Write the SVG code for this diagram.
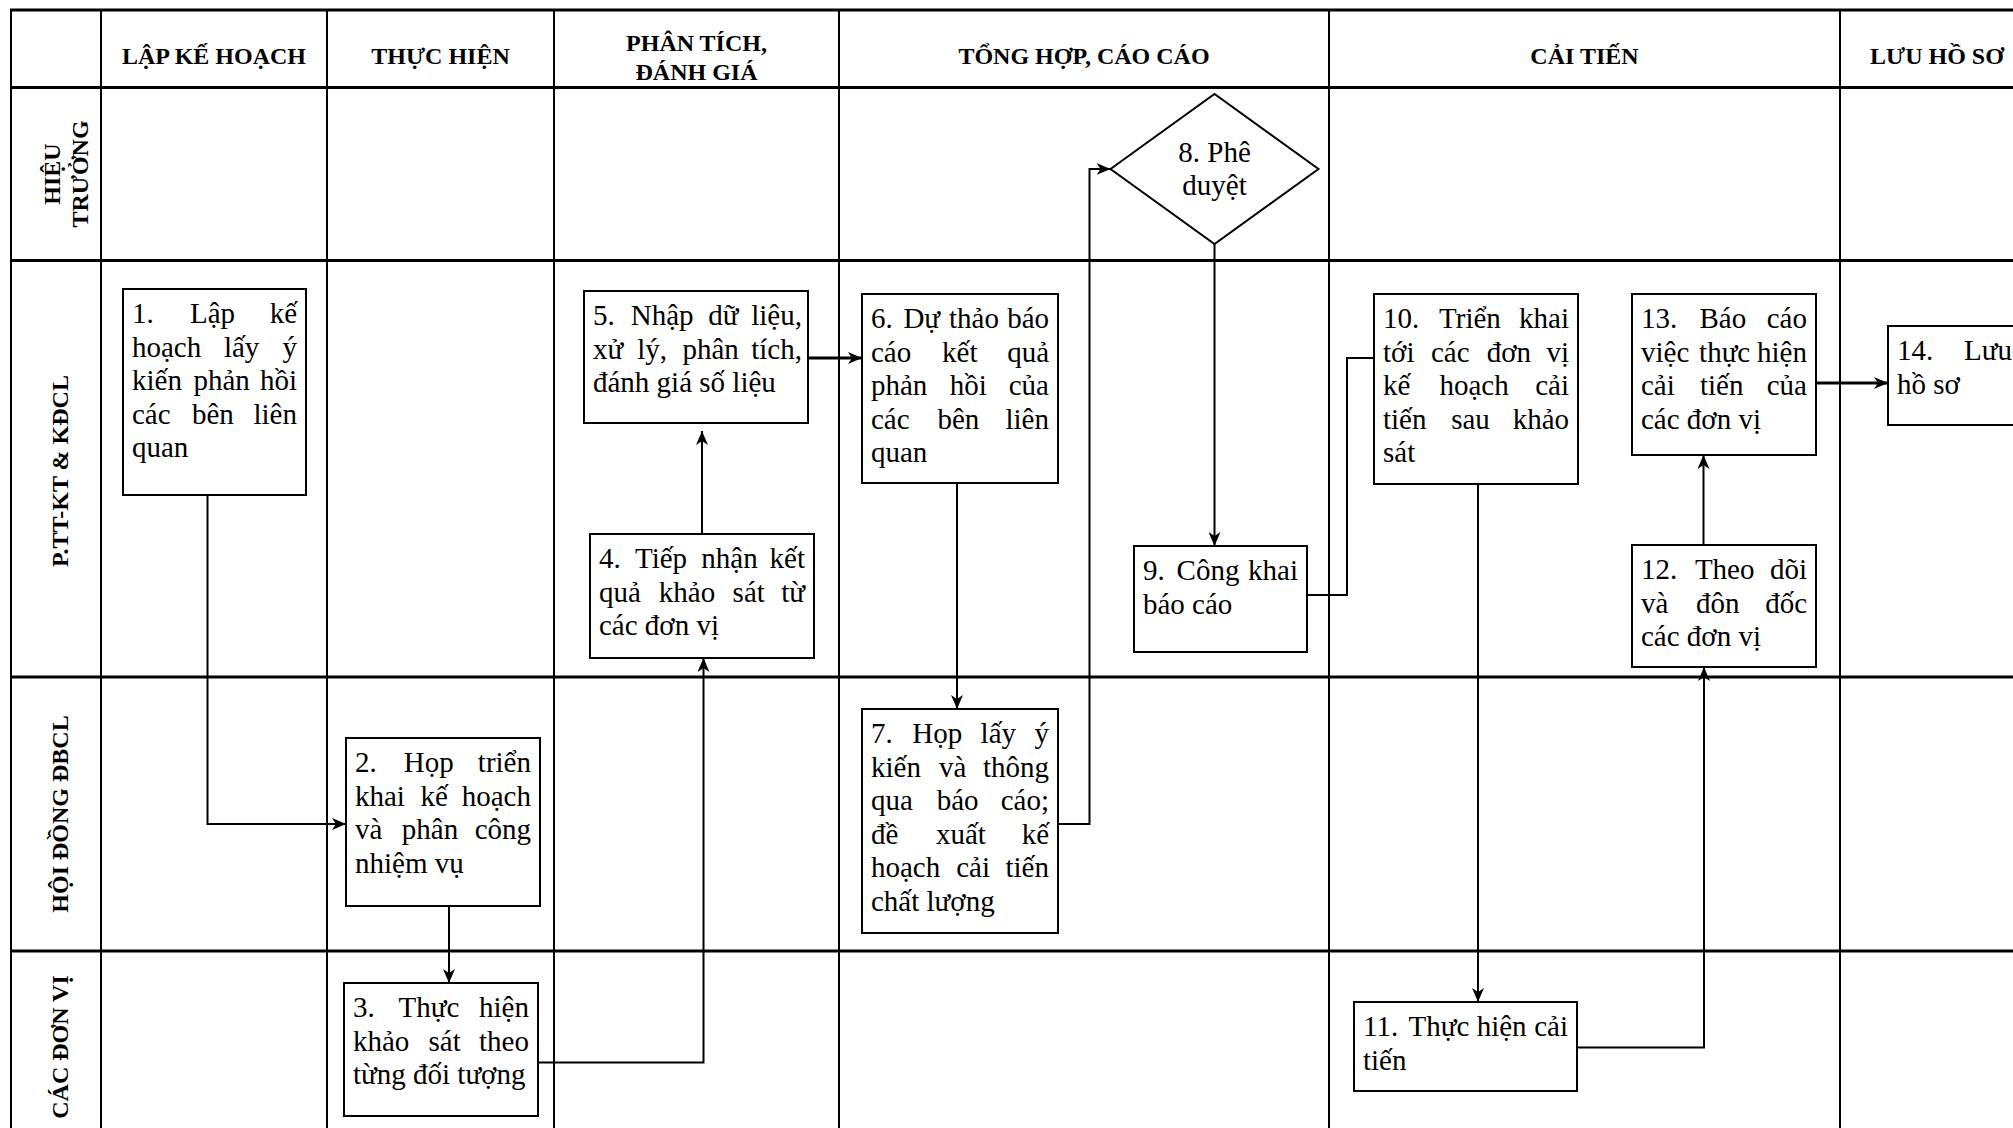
<svg xmlns="http://www.w3.org/2000/svg" width="2013" height="1128" viewBox="0 0 2013 1128">
<style>
.hz{stroke:#000;stroke-width:3}
.vt{stroke:#000;stroke-width:2}
.h{font-family:"Liberation Serif","Times New Roman",serif;font-weight:bold;font-size:24px;text-anchor:middle;fill:#000}
.box{fill:#fff;stroke:#000;stroke-width:2}
.t{font-family:"Liberation Serif","Times New Roman",serif;font-size:29px;fill:#000}
.e{text-anchor:end}
.m{text-anchor:middle}
.c{fill:none;stroke:#000;stroke-width:2}
.thick{stroke-width:3}
</style>
<defs>
<marker id="a" markerUnits="userSpaceOnUse" markerWidth="14" markerHeight="12" refX="14" refY="6" orient="auto"><path d="M0,0 L14,6 L0,12 L4,6 z" fill="#000"/></marker>
</defs>
<rect width="2013" height="1128" fill="#fff"/>
<g id="grid">
<line class="hz" x1="10" y1="10" x2="2013" y2="10"/>
<line class="hz" x1="10" y1="87.5" x2="2013" y2="87.5"/>
<line class="hz" x1="10" y1="260.5" x2="2013" y2="260.5"/>
<line class="hz" x1="10" y1="677" x2="2013" y2="677"/>
<line class="hz" x1="10" y1="951" x2="2013" y2="951"/>
<line class="vt" x1="11" y1="9" x2="11" y2="1128"/>
<line class="vt" x1="101" y1="9" x2="101" y2="1128"/>
<line class="vt" x1="327" y1="9" x2="327" y2="1128"/>
<line class="vt" x1="554" y1="9" x2="554" y2="1128"/>
<line class="vt" x1="839" y1="9" x2="839" y2="1128"/>
<line class="vt" x1="1329" y1="9" x2="1329" y2="1128"/>
<line class="vt" x1="1840" y1="9" x2="1840" y2="1128"/>
</g>
<g id="headers">
<text class="h" x="214" y="64">LẬP KẾ HOẠCH</text>
<text class="h" x="440.5" y="64">THỰC HIỆN</text>
<text class="h" x="696.5" y="51">PHÂN TÍCH,</text>
<text class="h" x="696.5" y="80">ĐÁNH GIÁ</text>
<text class="h" x="1084" y="64">TỔNG HỢP, CÁO CÁO</text>
<text class="h" x="1584.5" y="64">CẢI TIẾN</text>
<text class="h" x="1937" y="64">LƯU HỒ SƠ</text>
</g>
<g id="lanes">
<text class="h" transform="translate(60,174) rotate(-90)"><tspan x="0" y="0">HIỆU</tspan><tspan x="0" y="28">TRƯỞNG</tspan></text>
<text class="h" transform="translate(68,471) rotate(-90)">P.TT-KT &amp; KĐCL</text>
<text class="h" transform="translate(68,814) rotate(-90)">HỘI ĐỒNG ĐBCL</text>
<text class="h" transform="translate(68,1047) rotate(-90)">CÁC ĐƠN VỊ</text>
</g>
<g id="connectors">
<path class="c" d="M207.5,495 V824 H346" marker-end="url(#a)"/>
<path class="c" d="M449,906 V983" marker-end="url(#a)"/>
<path class="c" d="M538,1062.5 H703.5 V658" marker-end="url(#a)"/>
<path class="c" d="M702,534 V431" marker-end="url(#a)"/>
<path class="c thick" d="M808,358 H862" marker-end="url(#a)"/>
<path class="c" d="M957,483 V709" marker-end="url(#a)"/>
<path class="c" d="M1058,824 H1089.5 V169 H1110.5" marker-end="url(#a)"/>
<path class="c" d="M1214.5,244 V546" marker-end="url(#a)"/>
<path class="c" d="M1307,595 H1347 V358 H1374"/>
<path class="c" d="M1478,484 V1002" marker-end="url(#a)"/>
<path class="c" d="M1577,1047.5 H1704 V667" marker-end="url(#a)"/>
<path class="c" d="M1703.5,545 V455" marker-end="url(#a)"/>
<path class="c thick" d="M1816,383 H1888" marker-end="url(#a)"/>
</g>
<g id="n1">
<rect class="box" x="123" y="289" width="183" height="206"/>
<text class="t"><tspan x="132" y="323">1.</tspan><tspan x="190" y="323">Lập</tspan><tspan class="e" x="297" y="323">kế</tspan><tspan x="132" y="356.6">hoạch</tspan><tspan x="223.9" y="356.6">lấy</tspan><tspan class="e" x="297" y="356.6">ý</tspan><tspan x="132" y="390.2">kiến</tspan><tspan x="193.5" y="390.2">phản</tspan><tspan class="e" x="297" y="390.2">hồi</tspan><tspan x="132" y="423.8">các</tspan><tspan x="192" y="423.8">bên</tspan><tspan class="e" x="297" y="423.8">liên</tspan><tspan x="132" y="457.4">quan</tspan></text>
</g>
<g id="n2">
<rect class="box" x="346" y="738" width="194" height="168"/>
<text class="t"><tspan x="355" y="772">2.</tspan><tspan x="403.7" y="772">Họp</tspan><tspan class="e" x="531" y="772">triển</tspan><tspan x="355" y="805.6">khai</tspan><tspan x="420.4" y="805.6">kế</tspan><tspan class="e" x="531" y="805.6">hoạch</tspan><tspan x="355" y="839.2">và</tspan><tspan x="401.8" y="839.2">phân</tspan><tspan class="e" x="531" y="839.2">công</tspan><tspan x="355" y="872.8">nhiệm vụ</tspan></text>
</g>
<g id="n3">
<rect class="box" x="344" y="983" width="194" height="133"/>
<text class="t"><tspan x="353" y="1017">3.</tspan><tspan x="398.6" y="1017">Thực</tspan><tspan class="e" x="529" y="1017">hiện</tspan><tspan x="353" y="1050.6">khảo</tspan><tspan x="428.5" y="1050.6">sát</tspan><tspan class="e" x="529" y="1050.6">theo</tspan><tspan x="353" y="1084.2">từng đối tượng</tspan></text>
</g>
<g id="n4">
<rect class="box" x="590" y="534" width="224" height="124"/>
<text class="t"><tspan x="599" y="568">4.</tspan><tspan x="635" y="568">Tiếp</tspan><tspan x="701.3" y="568">nhận</tspan><tspan class="e" x="805" y="568">kết</tspan><tspan x="599" y="601.6">quả</tspan><tspan x="658.8" y="601.6">khảo</tspan><tspan x="732.6" y="601.6">sát</tspan><tspan class="e" x="805" y="601.6">từ</tspan><tspan x="599" y="635.2">các đơn vị</tspan></text>
</g>
<g id="n5">
<rect class="box" x="584" y="291" width="224" height="132"/>
<text class="t"><tspan x="593" y="325">5.</tspan><tspan x="630.8" y="325">Nhập</tspan><tspan x="708.2" y="325">dữ</tspan><tspan class="e" x="802" y="325">liệu,</tspan><tspan x="593" y="358.6">xử</tspan><tspan x="637.3" y="358.6">lý,</tspan><tspan x="682.4" y="358.6">phân</tspan><tspan class="e" x="802" y="358.6">tích,</tspan><tspan x="593" y="392.2">đánh giá số liệu</tspan></text>
</g>
<g id="n6">
<rect class="box" x="862" y="294" width="196" height="189"/>
<text class="t"><tspan x="871" y="328">6.</tspan><tspan x="903.4" y="328">Dự</tspan><tspan x="949" y="328">thảo</tspan><tspan class="e" x="1049" y="328">báo</tspan><tspan x="871" y="361.6">cáo</tspan><tspan x="942.1" y="361.6">kết</tspan><tspan class="e" x="1049" y="361.6">quả</tspan><tspan x="871" y="395.2">phản</tspan><tspan x="949.8" y="395.2">hồi</tspan><tspan class="e" x="1049" y="395.2">của</tspan><tspan x="871" y="428.8">các</tspan><tspan x="937.5" y="428.8">bên</tspan><tspan class="e" x="1049" y="428.8">liên</tspan><tspan x="871" y="462.4">quan</tspan></text>
</g>
<g id="n7">
<rect class="box" x="862" y="709" width="196" height="224"/>
<text class="t"><tspan x="871" y="743">7.</tspan><tspan x="912.2" y="743">Họp</tspan><tspan x="980.6" y="743">lấy</tspan><tspan class="e" x="1049" y="743">ý</tspan><tspan x="871" y="776.6">kiến</tspan><tspan x="939" y="776.6">và</tspan><tspan class="e" x="1049" y="776.6">thông</tspan><tspan x="871" y="810.2">qua</tspan><tspan x="936.7" y="810.2">báo</tspan><tspan class="e" x="1049" y="810.2">cáo;</tspan><tspan x="871" y="843.8">đề</tspan><tspan x="935.9" y="843.8">xuất</tspan><tspan class="e" x="1049" y="843.8">kế</tspan><tspan x="871" y="877.4">hoạch</tspan><tspan x="956.2" y="877.4">cải</tspan><tspan class="e" x="1049" y="877.4">tiến</tspan><tspan x="871" y="911">chất lượng</tspan></text>
</g>
<g id="n8">
<polygon class="box" points="1110.5,169 1214.5,94 1318.5,169 1214.5,244"/>
<text class="t m"><tspan x="1214.5" y="162">8. Phê</tspan><tspan x="1214.5" y="195">duyệt</tspan></text>
</g>
<g id="n9">
<rect class="box" x="1134" y="546" width="173" height="106"/>
<text class="t"><tspan x="1143" y="580">9.</tspan><tspan x="1176.6" y="580">Công</tspan><tspan class="e" x="1298" y="580">khai</tspan><tspan x="1143" y="613.6">báo cáo</tspan></text>
</g>
<g id="n10">
<rect class="box" x="1374" y="294" width="204" height="190"/>
<text class="t"><tspan x="1383" y="328">10.</tspan><tspan x="1439.1" y="328">Triển</tspan><tspan class="e" x="1569" y="328">khai</tspan><tspan x="1383" y="361.6">tới</tspan><tspan x="1431" y="361.6">các</tspan><tspan x="1486.7" y="361.6">đơn</tspan><tspan class="e" x="1569" y="361.6">vị</tspan><tspan x="1383" y="395.2">kế</tspan><tspan x="1439.4" y="395.2">hoạch</tspan><tspan class="e" x="1569" y="395.2">cải</tspan><tspan x="1383" y="428.8">tiến</tspan><tspan x="1451.2" y="428.8">sau</tspan><tspan class="e" x="1569" y="428.8">khảo</tspan><tspan x="1383" y="462.4">sát</tspan></text>
</g>
<g id="n11">
<rect class="box" x="1354" y="1002" width="223" height="89"/>
<text class="t"><tspan x="1363" y="1036">11.</tspan><tspan x="1408.6" y="1036">Thực</tspan><tspan x="1476.7" y="1036">hiện</tspan><tspan class="e" x="1568" y="1036">cải</tspan><tspan x="1363" y="1069.6">tiến</tspan></text>
</g>
<g id="n12">
<rect class="box" x="1632" y="545" width="184" height="122"/>
<text class="t"><tspan x="1641" y="579">12.</tspan><tspan x="1694.9" y="579">Theo</tspan><tspan class="e" x="1807" y="579">dõi</tspan><tspan x="1641" y="612.6">và</tspan><tspan x="1696" y="612.6">đôn</tspan><tspan class="e" x="1807" y="612.6">đốc</tspan><tspan x="1641" y="646.2">các đơn vị</tspan></text>
</g>
<g id="n13">
<rect class="box" x="1632" y="294" width="184" height="161"/>
<text class="t"><tspan x="1641" y="328">13.</tspan><tspan x="1699.5" y="328">Báo</tspan><tspan class="e" x="1807" y="328">cáo</tspan><tspan x="1641" y="361.6">việc</tspan><tspan x="1699.1" y="361.6">thực</tspan><tspan class="e" x="1807" y="361.6">hiện</tspan><tspan x="1641" y="395.2">cải</tspan><tspan x="1699.9" y="395.2">tiến</tspan><tspan class="e" x="1807" y="395.2">của</tspan><tspan x="1641" y="428.8">các đơn vị</tspan></text>
</g>
<g id="n14">
<rect class="box" x="1888" y="326" width="160" height="99"/>
<text class="t"><tspan x="1897" y="360">14.</tspan><tspan x="1964" y="360">Lưu</tspan><tspan x="1897" y="393.6">hồ sơ</tspan></text>
</g>
</svg>
